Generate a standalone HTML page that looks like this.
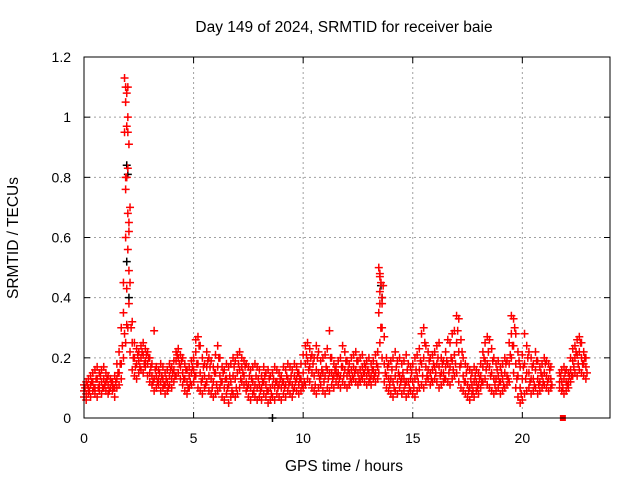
<!DOCTYPE html>
<html><head><meta charset="utf-8"><style>
body{margin:0;background:#fff}
svg{display:block;font-family:"Liberation Sans",sans-serif}
</style></head><body>
<svg id="chart" width="640" height="480" viewBox="0 0 640 480">
<rect width="640" height="480" fill="#fff"/>
<text x="344" y="32" font-size="15.5" text-anchor="middle">Day 149 of 2024, SRMTID for receiver baie</text>
<text transform="translate(18,238) rotate(-90)" font-size="15.5" text-anchor="middle">SRMTID / TECUs</text>
<text x="344" y="471" font-size="15.5" text-anchor="middle">GPS time / hours</text>
<g id="grid"></g>
<g id="marks"></g>
<rect x="84" y="57" width="526" height="361" fill="none" stroke="#000" stroke-width="1"/>
<g id="ticks"></g>
</svg>
<script>
const xTicks=[0,5,10,15,20];
const yTicks=[0,0.2,0.4,0.6,0.8,1,1.2];
const yTickLabels=["0","0.2","0.4","0.6","0.8","1","1.2"];
const lo=[.07,.06,.08,.07,.09,.08,.07,.09,.08,.10,
.09,.08,.10,.09,.07,.10,.11,.13,.20,.25,
.30,.22,.16,.14,.13,.15,.16,.15,.17,.14,
.12,.11,.09,.10,.11,.09,.10,.08,.09,.11,
.10,.12,.14,.15,.13,.11,.09,.08,.10,.11,
.12,.14,.10,.09,.08,.10,.12,.09,.08,.07,
.08,.09,.10,.07,.06,.08,.05,.07,.08,.07,
.08,.10,.12,.11,.09,.07,.06,.08,.07,.06,
.07,.06,.08,.07,.05,.06,.07,.06,.08,.07,
.06,.08,.07,.09,.08,.07,.10,.09,.08,.09,
.10,.11,.13,.12,.10,.09,.08,.10,.11,.09,
.08,.10,.09,.11,.10,.12,.11,.10,.12,.11,
.10,.11,.12,.13,.12,.11,.12,.13,.12,.11,
.12,.11,.13,.12,.13,.25,.20,.12,.10,.09,
.08,.07,.09,.08,.10,.08,.09,.07,.08,.09,
.08,.07,.09,.10,.11,.10,.12,.13,.11,.12,
.13,.12,.10,.11,.12,.13,.12,.11,.13,.14,
.15,.12,.10,.09,.08,.07,.06,.08,.07,.09,
.08,.10,.12,.13,.11,.10,.09,.08,.09,.10,
.08,.09,.10,.11,.12,.20,.15,.10,.07,.05,
.06,.08,.09,.10,.08,.09,.10,.08,.09,.10,
.11,.10,.09,.10,null,null,null,.10,.09,.08,
.09,.10,.12,.14,.15,.14,.16,.15,.14,.13];
const mid=[.09,.08,.10,.11,.12,.10,.13,.11,.12,.13,
.12,.11,.10,.11,.10,.13,.15,.18,.35,.60,
.95,.45,.25,.20,.18,.19,.20,.21,.19,.18,
.15,.14,.13,.14,.13,.12,.13,.11,.12,.14,
.13,.16,.19,.20,.17,.15,.13,.12,.14,.15,
.16,.22,.18,.15,.13,.14,.17,.14,.13,.12,
.15,.17,.14,.12,.10,.13,.11,.12,.14,.13,
.15,.16,.17,.14,.12,.11,.10,.12,.11,.10,
.11,.10,.12,.11,.09,.10,.11,.10,.12,.11,
.10,.12,.11,.13,.12,.11,.14,.13,.11,.13,
.15,.18,.19,.17,.15,.14,.16,.15,.14,.15,
.14,.16,.15,.15,.14,.15,.15,.14,.17,.16,
.14,.15,.16,.17,.16,.15,.16,.17,.15,.14,
.15,.14,.16,.15,.17,.38,.30,.18,.14,.13,
.13,.12,.14,.12,.14,.13,.13,.12,.12,.13,
.12,.13,.14,.16,.18,.20,.17,.16,.15,.16,
.17,.18,.17,.15,.15,.17,.18,.17,.19,.21,
.25,.22,.18,.14,.12,.11,.10,.11,.12,.12,
.11,.14,.17,.19,.18,.17,.15,.13,.13,.14,
.12,.13,.15,.14,.18,.28,.24,.18,.14,.10,
.13,.18,.15,.15,.13,.13,.16,.13,.12,.14,
.15,.14,.13,.13,null,null,null,.12,.12,.13,
.12,.12,.16,.19,.20,.21,.22,.20,.18,.17];
const hi=[.11,.12,.13,.14,.15,.16,.17,.15,.16,.17,
.15,.14,.13,.12,.14,.18,.22,.30,.45,.80,
1.10,.70,.32,.25,.23,.22,.24,.25,.23,.22,
.20,.18,.29,.17,.16,.18,.17,.15,.16,.18,
.17,.19,.22,.23,.21,.20,.18,.16,.17,.19,
.20,.26,.27,.24,.20,.18,.22,.20,.19,.17,
.21,.24,.20,.17,.16,.18,.17,.18,.20,.19,
.21,.22,.20,.19,.18,.17,.16,.17,.18,.17,
.16,.14,.17,.15,.16,.14,.15,.17,.16,.15,
.14,.17,.16,.18,.17,.16,.18,.17,.15,.18,
.21,.24,.25,.23,.21,.20,.24,.22,.19,.20,
.21,.23,.29,.20,.18,.17,.19,.20,.24,.22,
.19,.18,.20,.21,.22,.19,.20,.21,.18,.19,
.20,.18,.19,.21,.22,.48,.40,.27,.20,.18,
.19,.20,.22,.19,.20,.18,.19,.21,.18,.17,
.18,.20,.21,.23,.28,.30,.24,.22,.20,.21,
.22,.24,.25,.20,.19,.22,.26,.25,.28,.29,
.34,.33,.26,.20,.18,.17,.16,.15,.17,.16,
.15,.18,.22,.25,.27,.26,.23,.20,.18,.19,
.17,.18,.20,.19,.25,.34,.33,.28,.22,.17,
.21,.28,.24,.22,.20,.18,.22,.19,.17,.18,
.20,.19,.18,.17,null,null,null,.15,.16,.17,
.16,.15,.20,.23,.24,.26,.27,.25,.22,.20];
const extra=[.10,.11,.09,.12,.10,.13,.10,.14,.10,.11,
.13,.09,.12,.10,.12,.15,.18,.24,.28,.31,
.62,.30,.20,.17,.21,.17,.22,.18,.21,.20,
.17,.12,.16,.12,.15,.14,.11,.13,.10,.16,
.15,.14,.21,.18,.19,.13,.16,.10,.12,.17,
.14,.18,.24,.12,.17,.11,.19,.17,.10,.15,
.11,.20,.12,.15,.13,.10,.14,.09,.17,.10,
.18,.13,.15,.17,.10,.14,.13,.09,.14,.13,
.09,.12,.14,.09,.13,.08,.13,.12,.10,.13,
.12,.10,.14,.11,.14,.09,.12,.15,.13,.11,
.12,.21,.16,.20,.18,.11,.20,.13,.16,.12,
.17,.13,.20,.13,.16,.14,.13,.17,.14,.19,
.16,.13,.14,.15,.19,.13,.14,.15,.17,.16,
.13,.16,.14,.18,.15,.30,.44,.15,.17,.11,
.16,.10,.17,.15,.12,.15,.11,.16,.10,.15,
.10,.16,.12,.19,.14,.25,.14,.19,.13,.18,
.15,.20,.14,.18,.13,.19,.15,.20,.16,.18,
.29,.17,.22,.12,.15,.09,.13,.09,.14,.10,
.13,.12,.20,.16,.22,.14,.19,.11,.16,.12,
.15,.11,.18,.13,.21,.24,.30,.13,.19,.08,
.17,.13,.20,.12,.17,.11,.19,.11,.15,.12,
.18,.12,.16,.11,null,null,null,.14,.10,.15,
.11,.14,.14,.17,.22,.18,.25,.18,.20,.15];
const spikeTimes=[1.85,1.9,1.95,1.9,2.0,1.95,1.85,2.05,2.0,1.95,1.9,2.0,2.05,2.0,2.05,1.95,2.05,13.45,13.5,13.55,13.5,13.6,13.45,13.55];
const spikeVals=[1.13,1.1,1.08,1.05,1.0,0.97,0.95,0.91,0.83,0.8,0.76,0.68,0.65,0.56,0.49,0.43,0.38,0.5,0.47,0.45,0.42,0.38,0.35,0.3];
const blackTimes=[1.95,2.0,1.95,2.05,13.55,13.6,8.6];
const blackVals=[0.84,0.81,0.52,0.4,0.44,0.4,0.0];
const squareTimes=[21.85];
const squareVals=[0.0];

const X0=84,X1=610,Y0=418,Y1=57,XMAX=24,YMAX=1.2;
const sx=v=>X0+(X1-X0)*v/XMAX;
const sy=v=>Y0-(Y0-Y1)*v/YMAX;
const NS="http://www.w3.org/2000/svg";
const grid=document.getElementById('grid'),ticks=document.getElementById('ticks'),marks=document.getElementById('marks');
function mk(tag,attrs,parent){const e=document.createElementNS(NS,tag);for(const k in attrs)e.setAttribute(k,attrs[k]);parent.appendChild(e);return e;}
xTicks.forEach(t=>{
  const x=sx(t);
  if(t>0){const g=mk('line',{x1:x,x2:x,y1:Y1,y2:Y0,stroke:'#a0a0a0','stroke-dasharray':'2,3'},grid);
  
  }
  mk('line',{x1:x,x2:x,y1:Y0,y2:Y0-6,stroke:'#000'},ticks);
  mk('line',{x1:x,x2:x,y1:Y1,y2:Y1+6,stroke:'#000'},ticks);
  const l=mk('text',{x:x,y:443,'font-size':14,'text-anchor':'middle'},ticks);
  l.textContent=String(t);
  
  
});
yTicks.forEach((t,i)=>{
  const y=sy(t);
  if(t>0&&t<YMAX){const g=mk('line',{x1:X0,x2:X1,y1:y,y2:y,stroke:'#a0a0a0','stroke-dasharray':'2,3'},grid);
  
  }
  mk('line',{x1:X0,x2:X0+6,y1:y,y2:y,stroke:'#000'},ticks);
  mk('line',{x1:X1,x2:X1-6,y1:y,y2:y,stroke:'#000'},ticks);
  const l=mk('text',{x:71,y:y+5,'font-size':14,'text-anchor':'end'},ticks);
  l.textContent=yTickLabels[i];
  
  
});
function plus(t,v,color,name){
  if(v===null)return;
  const x=sx(t),y=sy(v);
  const p=mk('path',{d:`M${x-4},${y}h8M${x},${y-4}v8`,stroke:color,'stroke-width':1.5,fill:'none'},marks);
  
  
}
blackTimes.forEach((t,i)=>plus(t,blackVals[i],'#000','black-point'));
[lo,mid,hi,extra].forEach((arr,k)=>arr.forEach((v,i)=>plus(i*0.1+(k===3?0.05:0),v,'#f00','srmtid-point')));
spikeTimes.forEach((t,i)=>plus(t,spikeVals[i],'#f00','spike-point'));
squareTimes.forEach((t,i)=>{
  const r=mk('rect',{x:sx(t)-3,y:sy(squareVals[i])-3,width:6,height:6,fill:'#f00'},marks);
  
  
});
</script>
</body></html>
